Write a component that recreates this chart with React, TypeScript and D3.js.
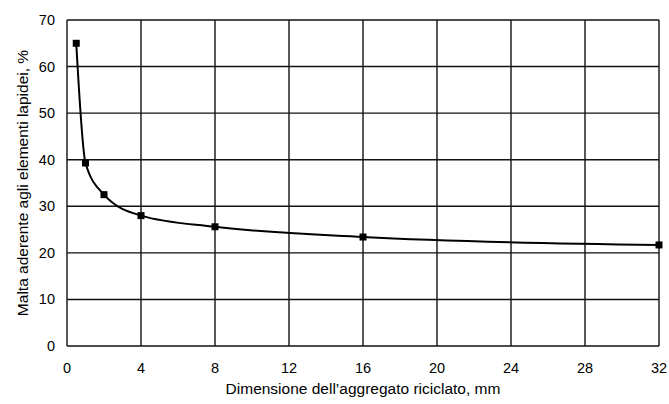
import { useRef, useEffect } from "react";
import * as d3 from "d3";

// valori
const sizes = [0.5, 1, 2, 4, 8, 16, 32];
const mortar = [65, 39.3, 32.5, 28, 25.6, 23.4, 21.7];
const xTicks = [0, 4, 8, 12, 16, 20, 24, 28, 32];
const yTicks = [0, 10, 20, 30, 40, 50, 60, 70];
const xTitle = "Dimensione dell\u2019aggregato riciclato, mm";
const yTitle = "Malta aderente agli elementi lapidei, %";

const W = 669, H = 404;
const m = { left: 67, right: 10, top: 20, bottom: 58 };

export default function App() {
  const ref = useRef<SVGSVGElement>(null);

  useEffect(() => {
    const svg = d3.select(ref.current);
    svg.selectAll("*").remove();
    const x = d3.scaleLinear([0, 32], [m.left, W - m.right]);
    const y = d3.scaleLinear([0, 70], [H - m.bottom, m.top]);
    const font = "'Liberation Sans', Arial, sans-serif";

    const g = svg.append("g");
    // griglia
    g.selectAll("line.vx").data(xTicks).enter().append("line")
      .attr("x1", d => x(d)).attr("x2", d => x(d))
      .attr("y1", y(0)).attr("y2", y(70))
      .attr("stroke", "#111").attr("stroke-width", 1.4);
    g.selectAll("line.hy").data(yTicks).enter().append("line")
      .attr("x1", x(0)).attr("x2", x(32))
      .attr("y1", d => y(d)).attr("y2", d => y(d))
      .attr("stroke", "#111").attr("stroke-width", 1.4);

    // etichette
    g.selectAll("text.xt").data(xTicks).enter().append("text")
      .attr("x", d => x(d)).attr("y", y(0) + 27)
      .attr("text-anchor", "middle").attr("font-family", font).attr("font-size", 14.5)
      .text(d => d);
    g.selectAll("text.yt").data(yTicks).enter().append("text")
      .attr("x", x(0) - 12).attr("y", d => y(d) + 5)
      .attr("text-anchor", "end").attr("font-family", font).attr("font-size", 14.5)
      .text(d => d);

    const pts = sizes.map((s, i) => [s, mortar[i]] as [number, number]);
    const line = d3.line<[number, number]>()
      .x(d => x(d[0])).y(d => y(d[1]))
      .curve(d3.curveMonotoneX);
    g.append("path").attr("d", line(pts)).attr("fill", "none")
      .attr("stroke", "#000").attr("stroke-width", 2);
    g.selectAll("rect.pt").data(pts).enter().append("rect")
      .attr("x", d => x(d[0]) - 3.5).attr("y", d => y(d[1]) - 3.5)
      .attr("width", 7).attr("height", 7).attr("fill", "#000");

    svg.append("text")
      .attr("x", (x(0) + x(32)) / 2).attr("y", H - 10)
      .attr("text-anchor", "middle").attr("font-family", font).attr("font-size", 15.5)
      .text(xTitle);
    svg.append("text")
      .attr("transform", `translate(28,${(y(0) + y(70)) / 2}) rotate(-90)`)
      .attr("text-anchor", "middle").attr("font-family", font).attr("font-size", 15.5)
      .text(yTitle);
  }, []);

  return (
    <svg ref={ref} width={W} height={H}
      style={{ position: "absolute", left: 0, top: 0, background: "#fff" }} />
  );
}
